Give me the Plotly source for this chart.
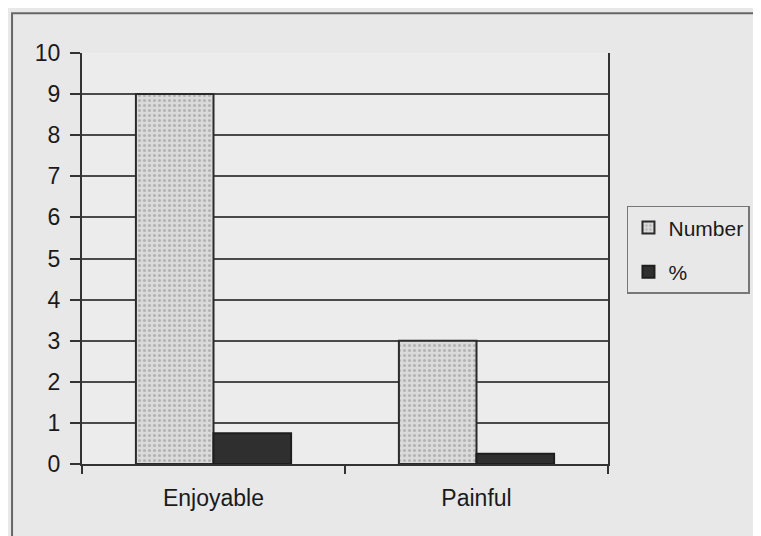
import plotly.graph_objects as go

categories = ["Enjoyable", "Painful"]
number_values = [9, 3]
percent_values = [0.75, 0.25]
y_ticks = list(range(0, 11))

FONT = "Liberation Sans, Arial, sans-serif"
TXT = "#1a1a1a"

fig = go.Figure()
fig.add_trace(go.Bar(
    x=categories, y=number_values, name="Number", legendgroup="a",
    marker=dict(color="#d8d8d8", line=dict(color="#2a2a2a", width=2),
                pattern=dict(shape=".", fgcolor="#8c8c8c", bgcolor="#dadada",
                             size=5, solidity=0.3)),
))
fig.add_trace(go.Bar(
    x=categories, y=percent_values, name="%", legendgroup="b",
    marker=dict(color="#2f2f2f", line=dict(color="#1e1e1e", width=2)),
))

# page body has an 8px margin, so the figure sits 8px right and down
fig.update_layout(
    width=753, height=528,
    margin=dict(l=74, r=153, t=45, b=72, autoexpand=False),
    paper_bgcolor="#e8e8e8", plot_bgcolor="#ececec",
    barmode="group", bargap=0.41, bargroupgap=0,
    font=dict(family=FONT, size=23, color=TXT),
    showlegend=True,
    legend=dict(xref="container", yref="container",
                x=0.822, xanchor="left", y=0.542, yanchor="middle",
                bgcolor="#e8e8e8", bordercolor="#777777", borderwidth=1.5,
                font=dict(size=21, color=TXT),
                traceorder="grouped", tracegroupgap=14,
                itemwidth=30),
    xaxis=dict(showgrid=False, showline=True, linecolor="#333333", linewidth=2,
               mirror=False, ticks="outside", tickson="boundaries", ticklen=8,
               tickcolor="#333333", tickwidth=1.5,
               tickfont=dict(size=23, color=TXT), ticklabelstandoff=12),
    yaxis=dict(range=[0, 10], tickvals=y_ticks, showgrid=True,
               gridcolor="#4a4a4a", gridwidth=1.5,
               showline=True, linecolor="#333333", linewidth=2, mirror=True,
               ticks="outside", ticklen=10, tickcolor="#333333", tickwidth=1.5,
               tickfont=dict(size=23, color=TXT), ticklabelstandoff=5,
               zeroline=False),
    shapes=[dict(type="rect", xref="paper", yref="paper",
                 x0=-0.133, x1=1.6, y0=-0.6, y1=1.097,
                 line=dict(color="#666666", width=2), fillcolor="rgba(0,0,0,0)",
                 layer="below")],
)

fig.write_html("out.html")
